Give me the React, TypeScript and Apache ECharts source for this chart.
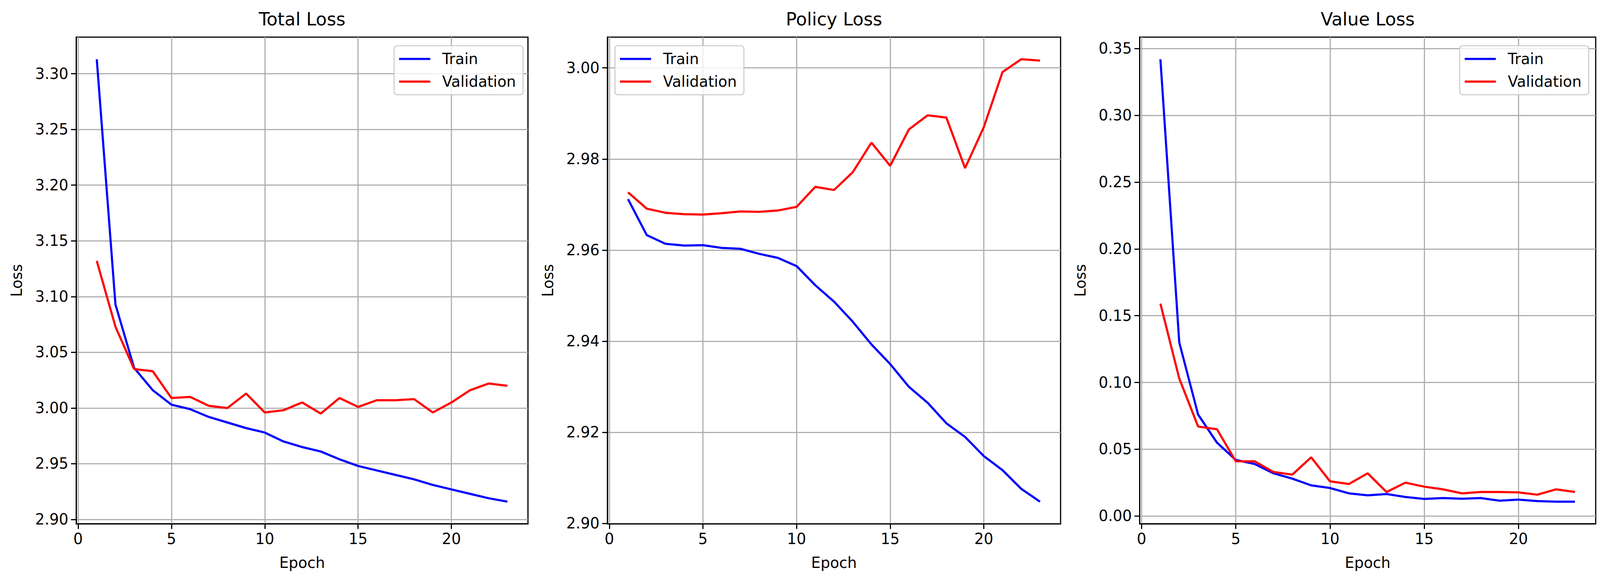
import React, { useEffect, useRef } from "react";
import * as echarts from "echarts";

const epochs = Array.from({ length: 23 }, (_, i) => i + 1);
const totalTrain = [3.313, 3.093, 3.036, 3.016, 3.003, 2.999, 2.992, 2.987, 2.982, 2.978, 2.970, 2.965, 2.961, 2.954, 2.948, 2.944, 2.940, 2.936, 2.931, 2.927, 2.923, 2.919, 2.916];
const totalVal = [3.132, 3.073, 3.035, 3.033, 3.009, 3.010, 3.002, 3.000, 3.013, 2.996, 2.998, 3.005, 2.995, 3.009, 3.001, 3.007, 3.007, 3.008, 2.996, 3.005, 3.016, 3.022, 3.020];
const policyTrain = [2.9712, 2.9633, 2.9614, 2.9610, 2.9611, 2.9605, 2.9603, 2.9592, 2.9583, 2.9565, 2.9523, 2.9487, 2.9443, 2.9393, 2.9350, 2.9300, 2.9265, 2.9220, 2.9190, 2.9148, 2.9117, 2.9076, 2.9048];
const policyVal = [2.9727, 2.9691, 2.9682, 2.9679, 2.9678, 2.9681, 2.9685, 2.9684, 2.9687, 2.9695, 2.9739, 2.9732, 2.9771, 2.9836, 2.9785, 2.9865, 2.9896, 2.9891, 2.9780, 2.9870, 2.9991, 3.0019, 3.0016];
const valueTrain = [0.342, 0.130, 0.076, 0.055, 0.042, 0.039, 0.032, 0.028, 0.023, 0.021, 0.017, 0.0155, 0.0165, 0.0143, 0.0128, 0.0135, 0.013, 0.0135, 0.0115, 0.0123, 0.0112, 0.0108, 0.0108];
const valueVal = [0.159, 0.103, 0.067, 0.065, 0.041, 0.041, 0.033, 0.031, 0.044, 0.026, 0.024, 0.032, 0.018, 0.025, 0.022, 0.020, 0.017, 0.018, 0.018, 0.0177, 0.016, 0.020, 0.018];

const titles = ["Total Loss", "Policy Loss", "Value Loss"];
const xTicks = [0, 5, 10, 15, 20];
const yTicksTotal = [2.9, 2.95, 3.0, 3.05, 3.1, 3.15, 3.2, 3.25, 3.3];
const yTicksPolicy = [2.9, 2.92, 2.94, 2.96, 2.98, 3.0];
const yTicksValue = [0, 0.05, 0.1, 0.15, 0.2, 0.25, 0.3, 0.35];

const FONT = "DejaVu Sans";

export default function App() {
  const ref = useRef<HTMLDivElement>(null);
  useEffect(() => {
    const W = window.innerWidth;
    const H = window.innerHeight;
    const s = W / 4470;
    const sy = H / 1466;
    const chart = echarts.init(ref.current!, null, { renderer: "svg", width: W, height: H });
    const FS = 41.7 * s;
    const grids = [
      { left: 213 * s, width: 1262 * s, top: 95 * sy, height: 1245 * sy },
      { left: 1697 * s, width: 1266 * s, top: 95 * sy, height: 1245 * sy },
      { left: 3184 * s, width: 1274 * s, top: 95 * sy, height: 1245 * sy },
    ];
    const panels = [
      { tr: totalTrain, va: totalVal, ticks: yTicksTotal },
      { tr: policyTrain, va: policyVal, ticks: yTicksPolicy },
      { tr: valueTrain, va: valueVal, ticks: yTicksValue },
    ];
    const yRange = (a: number[], b: number[]) => {
      const all = a.concat(b);
      const mn = Math.min(...all), mx = Math.max(...all);
      const m = (mx - mn) * 0.05;
      return [mn - m, mx + m];
    };
    const legendLefts = [1101, 1718, 4078];
    const lw = 3.3 * s;
    const axisLine = { show: true, onZero: false, lineStyle: { color: "#000", width: lw } };
    const axisTick = { show: true, length: 14.6 * s, lineStyle: { color: "#000", width: lw } };
    const splitLine = { show: true, lineStyle: { color: "#b0b0b0", width: lw } };
    const option: any = {
      animation: false,
      backgroundColor: "#fff",
      textStyle: { fontFamily: FONT },
      title: titles.map((t, i) => ({
        text: t,
        left: grids[i].left + grids[i].width / 2,
        textAlign: "center",
        top: 26 * sy,
        padding: 0,
        textStyle: { fontFamily: FONT, fontSize: 50 * s, fontWeight: "normal", color: "#000" },
      })),
      grid: grids.map((g) => ({ ...g, show: true, borderColor: "#000", borderWidth: lw, backgroundColor: "transparent" })),
      legend: legendLefts.map((l) => ({
        left: l * s,
        top: 117 * sy,
        orient: "vertical",
        data: ["Train", "Validation"],
        icon: "rect",
        itemWidth: 87 * s,
        itemHeight: 6 * s,
        itemGap: 22 * s,
        padding: [16 * s, 20 * s, 16 * s, 14 * s],
        borderColor: "#cccccc",
        borderWidth: 3 * s,
        borderRadius: 8 * s,
        backgroundColor: "rgba(255,255,255,0.8)",
        selectedMode: false,
        textStyle: { fontFamily: FONT, fontSize: FS, color: "#000", padding: [0, 0, 0, 28 * s] },
      })),
      xAxis: grids.map((_, i) => ({
        type: "value",
        gridIndex: i,
        min: -0.1,
        max: 24.1,
        name: "Epoch",
        nameLocation: "middle",
        nameGap: 88 * s,
        nameTextStyle: { fontFamily: FONT, fontSize: FS, color: "#000" },
        axisLine,
        axisTick: { ...axisTick, customValues: xTicks },
        axisLabel: { customValues: xTicks, fontFamily: FONT, fontSize: FS, color: "#000", margin: 22 * s },
        splitLine,
      })),
      yAxis: panels.map((p, i) => {
        const [mn, mx] = yRange(p.tr, p.va);
        return {
          type: "value",
          gridIndex: i,
          min: mn,
          max: mx,
          name: "Loss",
          nameLocation: "middle",
          nameGap: 145 * s,
          nameTextStyle: { fontFamily: FONT, fontSize: FS, color: "#000" },
          axisLine,
          axisTick: { ...axisTick, customValues: p.ticks },
          axisLabel: {
            customValues: p.ticks,
            fontFamily: FONT,
            fontSize: FS,
            color: "#000",
            margin: 22 * s,
            formatter: (v: number) => v.toFixed(2),
          },
          splitLine,
        };
      }),
      series: panels.flatMap((p, i) => [
        {
          name: "Train",
          type: "line",
          xAxisIndex: i,
          yAxisIndex: i,
          data: epochs.map((e, k) => [e, p.tr[k]]),
          showSymbol: false,
          symbol: "none",
          lineStyle: { color: "#0000ff", width: 6 * s },
          itemStyle: { color: "#0000ff" },
        },
        {
          name: "Validation",
          type: "line",
          xAxisIndex: i,
          yAxisIndex: i,
          data: epochs.map((e, k) => [e, p.va[k]]),
          showSymbol: false,
          symbol: "none",
          lineStyle: { color: "#ff0000", width: 6 * s },
          itemStyle: { color: "#ff0000" },
        },
      ]),
    };
    chart.setOption(option);
    return () => chart.dispose();
  }, []);
  return <div ref={ref} style={{ position: "fixed", left: 0, top: 0, width: "100vw", height: "100vh" }} />;
}
